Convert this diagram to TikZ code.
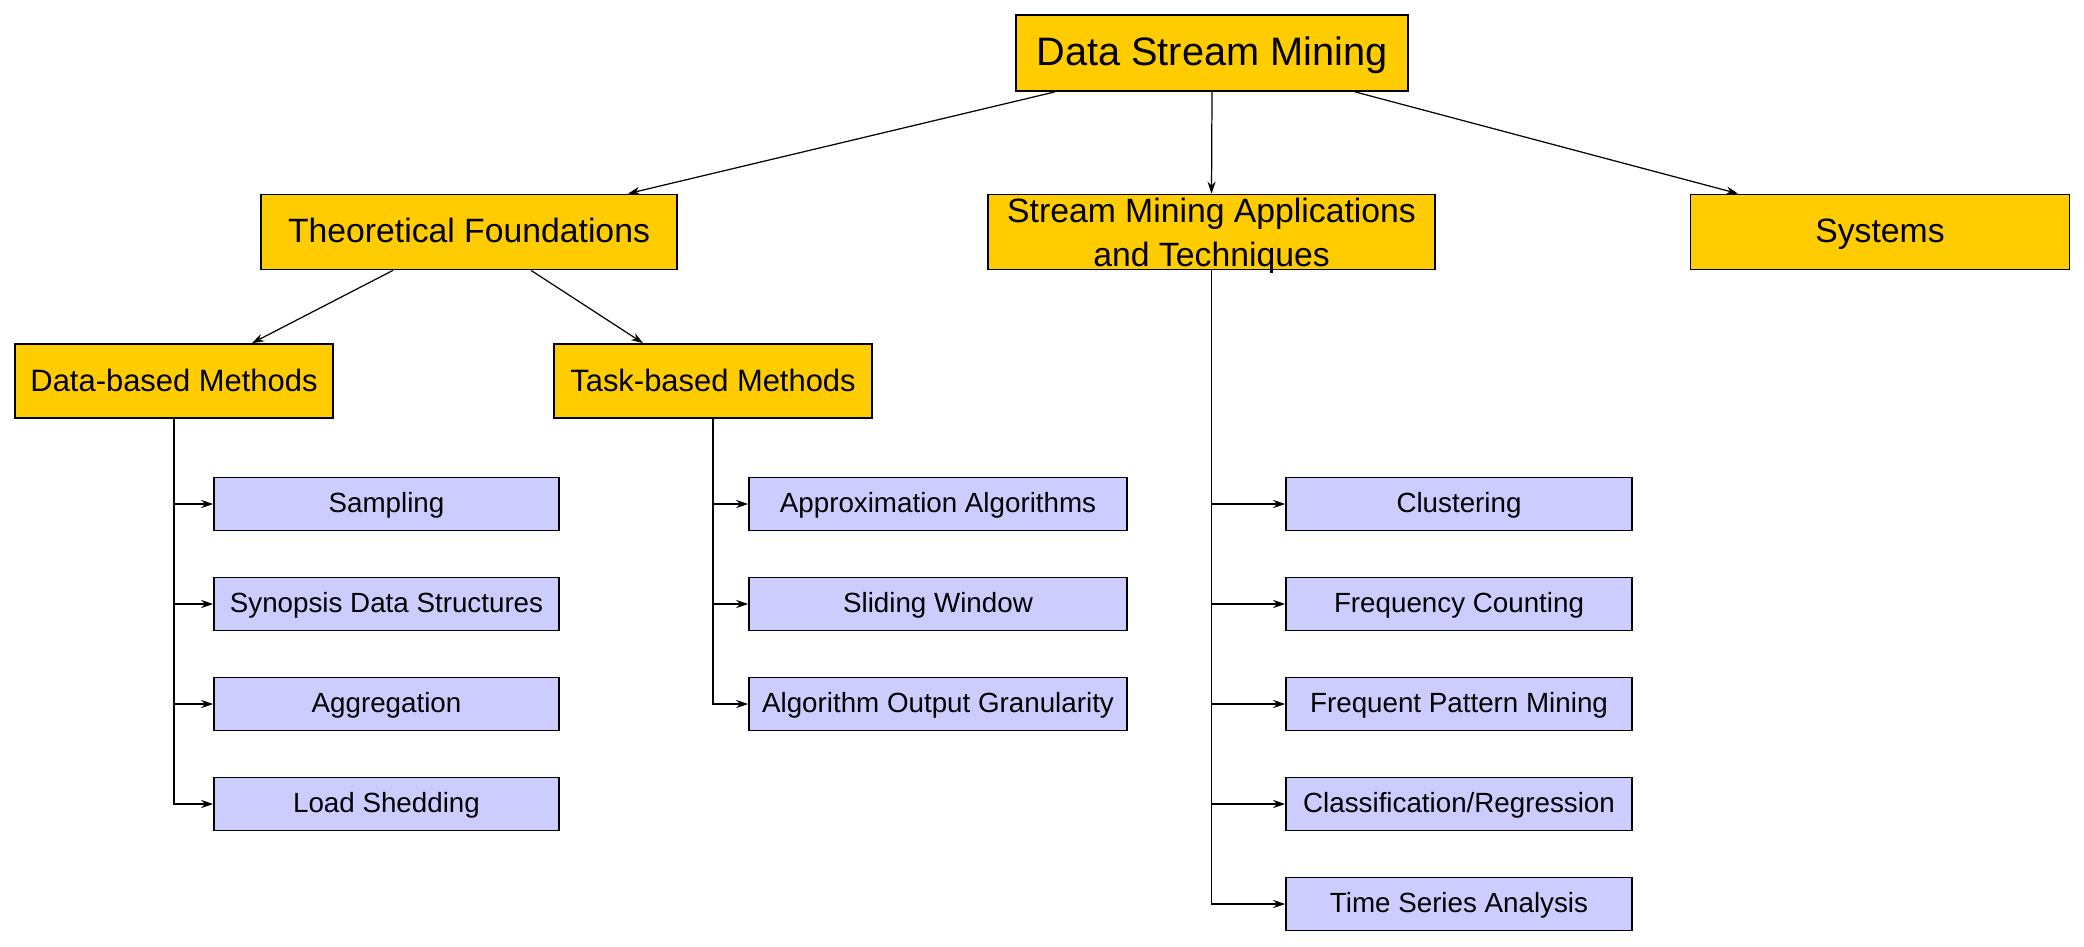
\documentclass[tikz,border=0pt]{standalone}
\usepackage{fontspec}
\setmainfont{Liberation Sans}
\usetikzlibrary{arrows.meta,positioning,calc}
\definecolor{boxgold}{HTML}{FFCC00}
\definecolor{boxlilac}{HTML}{CCCCFF}

\begin{document}
\begin{tikzpicture}[x=0.02cm,y=-0.02cm,->,>={Stealth[length=6.8pt,width=4.6pt]},line width=0.7pt,
    gold box/.style={draw,fill=boxgold,line width=1pt,inner sep=0pt},
    top node/.style={gold box,minimum width=7.84cm,minimum height=1.52cm,text height=16.3pt,text depth=2.4pt,font=\fontsize{22.6}{27}\selectfont},
    group node/.style={gold box,minimum height=1.5cm,text height=13.8pt,text depth=2pt,font=\fontsize{19.2}{25}\selectfont},
    method node/.style={gold box,minimum width=6.36cm,minimum height=1.48cm,text height=12.7pt,text depth=1.2pt,font=\fontsize{17.6}{21}\selectfont},
    leaf node/.style={draw,fill=boxlilac,line width=1pt,minimum height=1.06cm,inner sep=0pt,text height=11.4pt,text depth=1.6pt,font=\fontsize{15.8}{18}\selectfont}]

    \useasboundingbox (0,0) rectangle (2084,946);

    \node[top node] (root) at (1212,53) {Data Stream Mining};

    \node[group node,minimum width=8.32cm] (theory) at (469,232) {Theoretical Foundations};
    \node[group node,minimum width=8.94cm,align=center,text height=39.4pt,text depth=0pt] (apps) at (1211.5,232)
        {Stream Mining Applications\\and Techniques};
    \node[group node,minimum width=7.58cm] (sys) at (1880,232) {Systems};

    \node[method node] (data) at (174,381) {Data-based Methods};
    \node[method node] (task) at (713,381) {Task-based Methods};

    \draw ($(root.south)+(-157,0)$) -- ($(theory.north)+(159,0)$);
    \draw (root.south) -- (apps.north);
    \draw ($(root.south)+(143,0)$) -- ($(sys.north)+(-142,0)$);

    \draw ($(theory.south)+(-76,0)$) -- ($(data.north)+(78,0)$);
    \draw ($(theory.south)+(62,0)$) -- ($(task.north)+(-70,0)$);

    % leaves of the three branches
    \foreach \name/\txt [count=\i] in {samp/Sampling,syn/Synopsis Data Structures,agg/Aggregation,load/Load Shedding}{
        \node[leaf node,minimum width=6.9cm] (\name) at (386.5,404+100*\i) {\txt};
        \draw (data.south) |- (\name.west);
    }

    \foreach \name/\txt [count=\i] in {approx/Approximation Algorithms,slide/Sliding Window,gran/Algorithm Output Granularity}{
        \node[leaf node,minimum width=7.56cm] (\name) at (938,404+100*\i) {\txt};
        \draw (task.south) |- (\name.west);
    }

    \foreach \name/\txt [count=\i] in {clust/Clustering,freq/Frequency Counting,pat/Frequent Pattern Mining,class/{Classification/Regression},time/Time Series Analysis}{
        \node[leaf node,minimum width=6.92cm] (\name) at (1459,404+100*\i) {\txt};
        \draw (apps.south) |- (\name.west);
    }

\end{tikzpicture}
\end{document}
